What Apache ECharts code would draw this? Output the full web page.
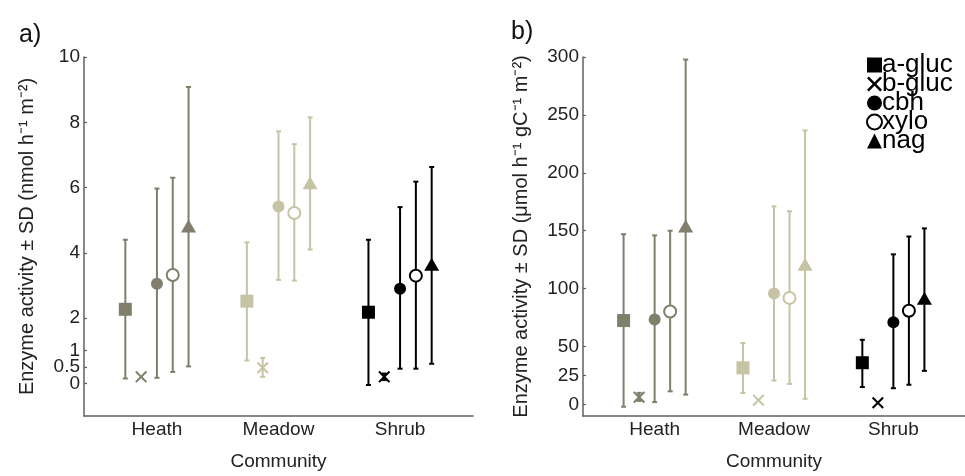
<!DOCTYPE html>
<html><head><meta charset="utf-8">
<script src="https://cdn.jsdelivr.net/npm/echarts@6/dist/echarts.min.js"></script>
<style>html,body{margin:0;padding:0;background:#fff}#c{width:965px;height:476px}</style>
</head><body><div id="c"></div>
<script>
const communities = ['Heath', 'Meadow', 'Shrub'];
const enzymes = ['a-gluc', 'b-gluc', 'cbh', 'xylo', 'nag'];
const communityColors = ['#7f7f6c', '#c6c4a5', '#000000'];
const enzymeOffsets = [-0.26, -0.13, 0, 0.13, 0.26];

// Panel a: nmol h-1 m-2  (rows = enzymes, cols = Heath, Meadow, Shrub)
const meanA = [[2.27, 2.52, 2.18], [0.2, 0.48, 0.2], [3.05, 5.42, 2.9], [3.32, 5.22, 3.3], [4.82, 6.15, 3.65]];
const lowA  = [[0.15, 0.7, -0.05], [null, 0.2, 0.1], [0.17, 3.17, 0.45], [0.35, 3.15, 0.45], [0.52, 4.1, 0.6]];
const highA = [[4.4, 4.32, 4.4], [null, 0.78, 0.3], [5.97, 7.72, 5.4], [6.3, 7.33, 6.18], [9.08, 8.15, 6.63]];
const yTicksA = [0, 0.5, 1, 2, 4, 6, 8, 10];

// Panel b: umol h-1 gC-1 m-2
const meanB = [[72.4, 31.6, 36], [6.2, 3.7, 1.4], [73.3, 95.8, 71], [80.3, 92, 80.9], [154, 121, 91.6]];
const lowB  = [[-2, 9.9, 15], [3, null, null], [2, 20.6, 14], [11.3, 17.7, 17], [8.5, 4.8, 29]];
const highB = [[147, 53, 55.8], [10, null, null], [146, 171, 129.6], [150, 166.8, 145], [297.8, 236.6, 152]];
const yTicksB = [0, 25, 50, 100, 150, 200, 250, 300];

const xSym = 'path://M0,1.2L1.2,0L5,3.8L8.8,0L10,1.2L6.2,5L10,8.8L8.8,10L5,6.2L1.2,10L0,8.8L3.8,5Z';
const symbols = ['rect', xSym, 'circle', 'emptyCircle', 'triangle'];
const symbolSizes = [13, 12, 12, 12, [15, 13]];
const FONT = 'Liberation Sans, Arial';

function errSeries(low, high, idx) {
  const data = [];
  low.forEach((row, e) => row.forEach((lo, c) => {
    if (lo === null) return;
    data.push([c + 1 + enzymeOffsets[e], lo, high[e][c], c]);
  }));
  return {
    type: 'custom', xAxisIndex: idx, yAxisIndex: idx, z: 2, silent: true,
    encode: { x: 0, y: [1, 2] },
    renderItem: function (params, api) {
      const x = api.value(0);
      const p1 = api.coord([x, api.value(1)]);
      const p2 = api.coord([x, api.value(2)]);
      const col = communityColors[api.value(3)];
      const st = { stroke: col, lineWidth: 2 };
      const hw = 2.5;
      return { type: 'group', children: [
        { type: 'line', shape: { x1: p1[0], y1: p1[1], x2: p2[0], y2: p2[1] }, style: st },
        { type: 'line', shape: { x1: p1[0] - hw, y1: p1[1], x2: p1[0] + hw, y2: p1[1] }, style: st },
        { type: 'line', shape: { x1: p2[0] - hw, y1: p2[1], x2: p2[0] + hw, y2: p2[1] }, style: st }
      ]};
    },
    data: data
  };
}

function markerSeries(mean, idx) {
  return enzymes.map((name, e) => ({
    name: name, type: 'scatter', xAxisIndex: idx, yAxisIndex: idx, z: 5,
    symbol: symbols[e], symbolSize: symbolSizes[e],
    itemStyle: e === 3 ? { color: '#000', borderWidth: 1.8, opacity: 1 } : { color: '#000', opacity: 1 },
    data: mean[e].map((v, c) => ({
      value: [c + 1 + enzymeOffsets[e], v],
      itemStyle: e === 3 ? { color: communityColors[c], borderWidth: 1.8, opacity: 1 } : { color: communityColors[c], opacity: 1 }
    }))
  }));
}

const axisLineStyle = { lineStyle: { color: '#606060', width: 1.5 } };
function xAx(idx) {
  return {
    type: 'value', gridIndex: idx, min: 0.4, max: 3.6,
    axisLine: Object.assign({ onZero: false }, axisLineStyle), axisTick: { show: false }, splitLine: { show: false },
    axisLabel: { customValues: [1, 2, 3], formatter: v => communities[Math.round(v) - 1], fontSize: 19, color: '#222', margin: 4, fontFamily: FONT },
    name: 'Community', nameLocation: 'middle', nameGap: 36,
    nameTextStyle: { fontSize: 19, color: '#222', fontFamily: FONT }
  };
}
function yAx(idx, min, max, ticks, labels, name, gap) {
  return {
    type: 'value', gridIndex: idx, min: min, max: max, position: 'left',
    axisLine: Object.assign({ show: true, onZero: false }, axisLineStyle),
    axisTick: { show: true, inside: true, length: 3, customValues: ticks, lineStyle: { color: '#606060', width: 1.2 } },
    splitLine: { show: false },
    axisLabel: { customValues: labels, fontSize: 19, lineHeight: 12, hideOverlap: false, showMinLabel: true, showMaxLabel: true, color: '#222', margin: 4, fontFamily: FONT },
    name: name, nameLocation: 'middle', nameGap: gap,
    nameTextStyle: { fontSize: 20, color: '#222', fontFamily: FONT }
  };
}
// one label-only axis per crowded tick of panel a, so no label is dropped
function labelOnlyAxis(v) {
  const ax = yAx(0, -1, 10, [], [v], '', 0);
  ax.axisLine = { show: false };
  ax.axisTick = { show: false };
  return ax;
}

const chart = echarts.init(document.getElementById('c'));
chart.setOption({
  animation: false,
  title: [
    { text: 'a)', left: 14, top: 18, textStyle: { fontSize: 25, fontWeight: 'normal', color: '#111', fontFamily: FONT } },
    { text: 'b)', left: 506, top: 15, textStyle: { fontSize: 25, fontWeight: 'normal', color: '#111', fontFamily: FONT } }
  ],
  grid: [
    { left: 84, top: 57, width: 389, height: 366 },
    { left: 583, top: 57, width: 382, height: 366 }
  ],
  xAxis: [xAx(0), xAx(1)],
  yAxis: [
    yAx(0, -1, 10, yTicksA, yTicksA.slice(2), 'Enzyme activity ± SD (nmol h⁻¹ m⁻²)', 47),
    yAx(1, -10, 300, yTicksB, yTicksB, 'Enzyme activity ± SD (μmol h⁻¹ gC⁻¹ m⁻²)', 52),
    labelOnlyAxis(yTicksA[0]),
    labelOnlyAxis(yTicksA[1])
  ],
  legend: {
    data: enzymes, orient: 'vertical', left: 866, top: 52, padding: 0,
    itemWidth: 15, itemHeight: 15, itemGap: -7, selectedMode: false,
    textStyle: { fontSize: 26, lineHeight: 19, color: '#000', fontFamily: FONT, padding: [0, 0, 0, -5] }
  },
  series: [
    errSeries(lowA, highA, 0),
    errSeries(lowB, highB, 1)
  ].concat(markerSeries(meanA, 0), markerSeries(meanB, 1))
});
</script></body></html>
